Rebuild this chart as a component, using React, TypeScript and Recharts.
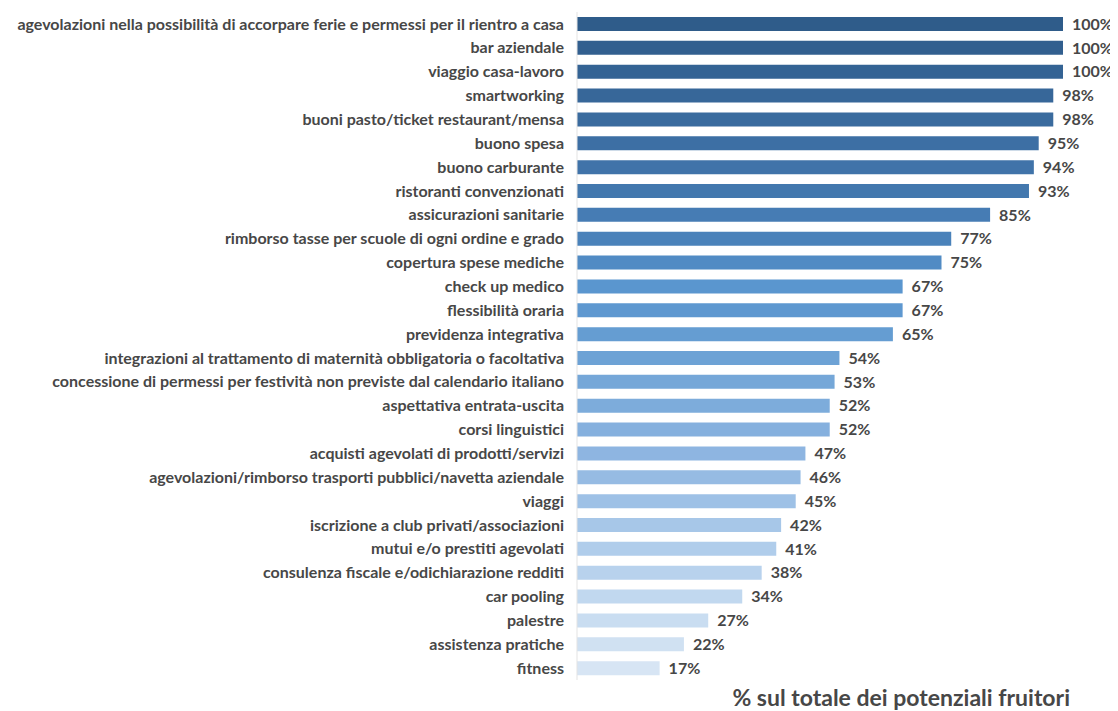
import { BarChart, Bar, XAxis, YAxis, Cell, LabelList } from "recharts";

const categories = [
  "agevolazioni nella possibilità di accorpare ferie e permessi per il rientro a casa",
  "bar aziendale",
  "viaggio casa-lavoro",
  "smartworking",
  "buoni pasto/ticket restaurant/mensa",
  "buono spesa",
  "buono carburante",
  "ristoranti convenzionati",
  "assicurazioni sanitarie",
  "rimborso tasse per scuole di ogni ordine e grado",
  "copertura spese mediche",
  "check up medico",
  "flessibilità oraria",
  "previdenza integrativa",
  "integrazioni al trattamento di maternità obbligatoria o facoltativa",
  "concessione di permessi per festività non previste dal calendario italiano",
  "aspettativa entrata-uscita",
  "corsi linguistici",
  "acquisti agevolati di prodotti/servizi",
  "agevolazioni/rimborso trasporti pubblici/navetta aziendale",
  "viaggi",
  "iscrizione a club privati/associazioni",
  "mutui e/o prestiti agevolati",
  "consulenza fiscale e/odichiarazione redditi",
  "car pooling",
  "palestre",
  "assistenza pratiche",
  "fitness",
];

const percentages = [
  100, 100, 100, 98, 98, 95, 94, 93, 85, 77, 75, 67, 67, 65, 54, 53, 52, 52, 47, 46,
  45, 42, 41, 38, 34, 27, 22, 17,
];

const barColors = [
  "#2F5C8A", "#325F8F", "#346394", "#376799", "#3A6B9E", "#3D6FA4", "#4073A9",
  "#4378AE", "#467CB4", "#4A82BA", "#518BC4", "#5A96CF", "#5E98D0", "#659DD2",
  "#6DA2D5", "#75A7D8", "#7DACDB", "#85B0DE", "#8EB5E1", "#96BBE3", "#9EC1E6",
  "#A7C7E8", "#B0CDEB", "#B8D2ED", "#C1D8EF", "#C9DDF1", "#D0E1F2", "#D7E5F4",
];

const data = categories.map((name, i) => ({ name, value: percentages[i] }));

const font = "Lato, 'Open Sans', sans-serif";

export default function App() {
  return (
    <div style={{ width: 1110, fontFamily: font }}>
      <BarChart
        width={1110}
        height={676}
        data={data}
        layout="vertical"
        margin={{ top: 4, right: 55, bottom: 4, left: 0 }}
      >
        <XAxis type="number" domain={[0, 100]} hide />
        <YAxis
          type="category"
          dataKey="name"
          width={569}
          interval={0}
          tickLine={false}
          tickSize={0}
          tickMargin={13}
          axisLine={{ stroke: "#E3E3E3" }}
          tick={{ fill: "#474747", fontSize: 16, fontWeight: 700, fontFamily: font }}
        />
        <Bar dataKey="value" barSize={14} isAnimationActive={false}>
          {data.map((d, i) => (
            <Cell key={d.name} fill={barColors[i]} />
          ))}
          <LabelList
            dataKey="value"
            position="right"
            offset={9}
            formatter={(v: number) => `${v}%`}
            style={{ fill: "#474747", fontSize: 16, fontWeight: 700, fontFamily: font }}
          />
        </Bar>
      </BarChart>
      <div
        style={{
          textAlign: "right",
          paddingRight: 48,
          fontSize: 23,
          fontWeight: 700,
          color: "#474747",
          marginTop: -1,
        }}
      >
        % sul totale dei potenziali fruitori
      </div>
    </div>
  );
}
